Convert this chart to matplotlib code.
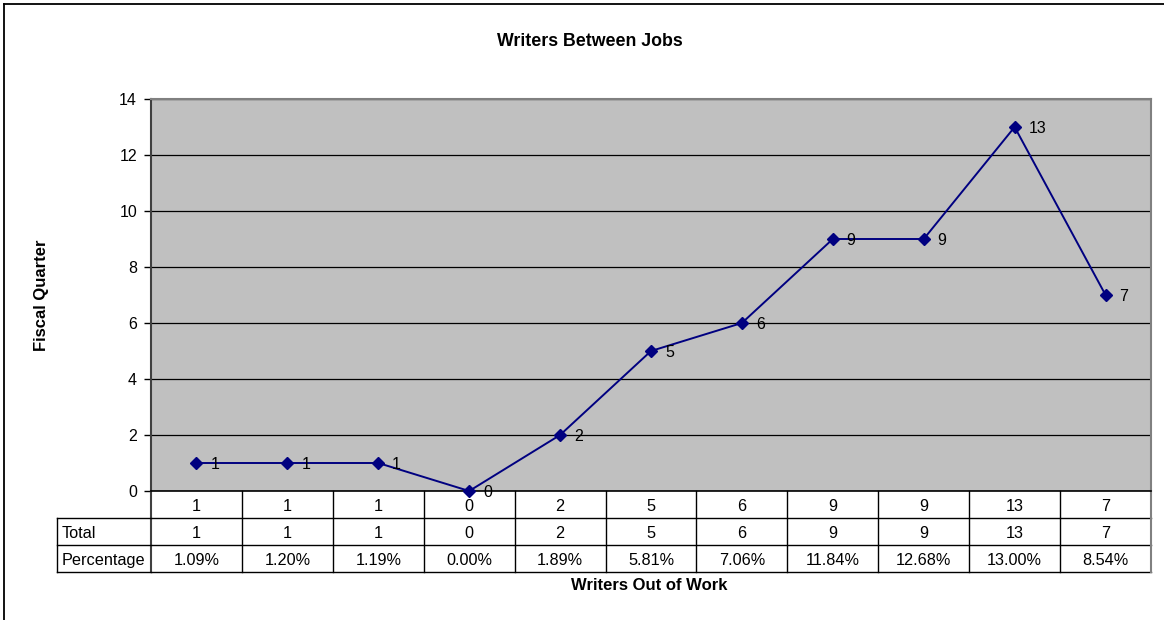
import matplotlib.pyplot as plt

plt.rcParams['font.family'] = ['Liberation Sans', 'DejaVu Sans']

# data
writers = [1, 1, 1, 0, 2, 5, 6, 9, 9, 13, 7]
totals = [1, 1, 1, 0, 2, 5, 6, 9, 9, 13, 7]
percentages = ["1.09%", "1.20%", "1.19%", "0.00%", "1.89%", "5.81%",
               "7.06%", "11.84%", "12.68%", "13.00%", "8.54%"]
row_labels = ["Total", "Percentage"]
y_ticks = [0, 2, 4, 6, 8, 10, 12, 14]

W, H = 1164, 620
fig = plt.figure(figsize=(W / 100, H / 100), dpi=100)

# outer chart border (left and top only visible)
fig.add_artist(plt.Line2D([4 / W, 4 / W], [0, 1 - 4 / H], color="black", lw=1.3,
                          transform=fig.transFigure))
fig.add_artist(plt.Line2D([4 / W, 1], [1 - 4 / H, 1 - 4 / H], color="black", lw=1.3,
                          transform=fig.transFigure))

left, right, top, bottom = 151, 1151, 99, 491
ax = fig.add_axes([left / W, 1 - bottom / H, (right - left) / W, (bottom - top) / H])
ax.set_facecolor("#c0c0c0")

x = list(range(len(writers)))
ax.plot(x, writers, color="#000080", marker="D", markersize=6.5, lw=1.4,
        clip_on=False, zorder=3)
for xi, v in zip(x, writers):
    ax.annotate(str(v), (xi, v), xytext=(10, -1), textcoords="offset points",
                va="center", ha="left", fontsize=11.5, zorder=4, annotation_clip=False)

ax.set_xlim(-0.5, len(writers) - 0.5)
ax.set_ylim(0, 14)
ax.set_yticks(y_ticks)
ax.set_yticklabels([str(t) for t in y_ticks], fontsize=11.5)
ax.tick_params(axis="y", direction="out", length=5, width=1, pad=5)
ax.set_xticks([])
ax.yaxis.grid(True, color="black", lw=0.9)
ax.set_axisbelow(True)
for s in ["top", "right"]:
    ax.spines[s].set_color("#808080")
    ax.spines[s].set_linewidth(1.5)
ax.spines["left"].set_color("#404040")
ax.spines["left"].set_linewidth(1.5)
ax.spines["bottom"].set_color("black")
ax.spines["bottom"].set_linewidth(1.2)

# data table below plot
row_h = 27 / (bottom - top)
tr = ax.get_xaxis_transform()
n = len(writers)
rows = [[str(v) for v in writers], [str(v) for v in totals], percentages]
for r, vals in enumerate(rows):
    yc = -row_h * (r + 0.56)
    for i, txt in enumerate(vals):
        ax.text(i, yc, txt, transform=tr, ha="center", va="center", fontsize=11.7, clip_on=False)
    yb = -row_h * (r + 1)
    ax.plot([-0.5, n - 0.5], [yb, yb], transform=tr, color="black", lw=1, clip_on=False)
# column separators
for i in range(1, n):
    ax.plot([i - 0.5, i - 0.5], [0, -3 * row_h], transform=tr, color="black", lw=1, clip_on=False)
ax.plot([-0.5, -0.5], [0, -3 * row_h], transform=tr, color="#404040", lw=1.5, clip_on=False)
ax.plot([n - 0.5, n - 0.5], [0, -3 * row_h], transform=tr, color="#808080", lw=1.5, clip_on=False)

# row label column
lab_left = (57 - left) / (right - left)
ta = ax.transAxes
ax.plot([lab_left, 0], [-row_h, -row_h], transform=ta, color="black", lw=1, clip_on=False)
for r, lab in enumerate(row_labels):
    yb = -row_h * (r + 2)
    ax.plot([lab_left, 0], [yb, yb], transform=ta, color="black", lw=1, clip_on=False)
    ax.text(lab_left + 0.005, -row_h * (r + 1.56), lab, transform=ta, ha="left", va="center",
            fontsize=11.7, clip_on=False)
ax.plot([lab_left, lab_left], [-row_h, -3 * row_h], transform=ta, color="black", lw=1, clip_on=False)

fig.text(590 / W, 1 - 42 / H, "Writers Between Jobs", ha="center", va="center",
         fontsize=12.8, fontweight="bold")
fig.text(649 / W, 1 - 585 / H, "Writers Out of Work", ha="center", va="center",
         fontsize=12, fontweight="bold")
fig.text(42 / W, 1 - 295 / H, "Fiscal Quarter", ha="center", va="center", rotation=90,
         fontsize=12, fontweight="bold")

fig.savefig("out.png", dpi=100)
